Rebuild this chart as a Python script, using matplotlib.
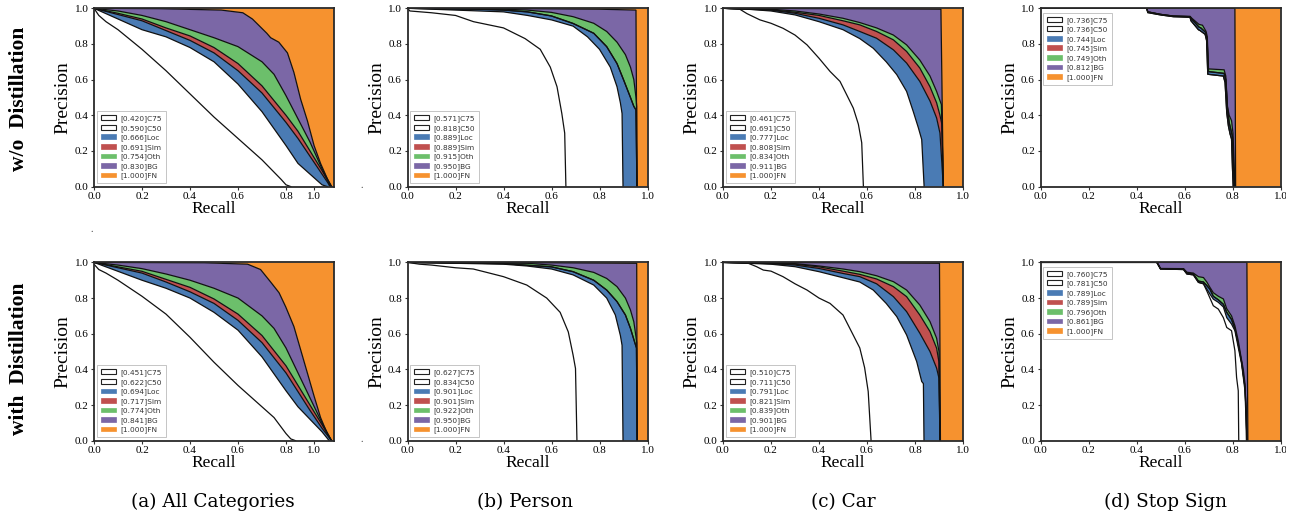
import numpy as np
import matplotlib
matplotlib.use('Agg')
import matplotlib.pyplot as plt
from matplotlib.patches import Patch, Rectangle

# ---------------- data ----------------
NAMES = ['C75', 'C50', 'Loc', 'Sim', 'Oth', 'BG', 'FN']
COLORS = ['#ffffff', '#ffffff', '#4a7bb4', '#c0504f', '#6cbf6b', '#7b67a6', '#f6922f']
ROW_LABELS = ['w/o  Distillation', 'with  Distillation']
CAPTIONS = ['(a) All Categories', '(b) Person', '(c) Car', '(d) Stop Sign']
Y_TICKS = [0.0, 0.2, 0.4, 0.6, 0.8, 1.0]
X_TICKS = [0.0, 0.2, 0.4, 0.6, 0.8, 1.0]
X_TICKS_ALL = [0.0, 0.2, 0.4, 0.6, 0.8, 0.917]
X_TICK_LABELS = ['0.0', '0.2', '0.4', '0.6', '0.8', '1.0']
FN_CURVE = [[0, 1.0], [1.0, 1.0], [1.0, 0.0]]

# legend AP values (C75, C50, Loc, Sim, Oth, BG, FN)
AP_ALL_WO = [0.420, 0.590, 0.666, 0.691, 0.754, 0.830, 1.000]
AP_ALL_W = [0.451, 0.622, 0.694, 0.717, 0.774, 0.841, 1.000]
AP_PER_WO = [0.571, 0.818, 0.889, 0.889, 0.915, 0.950, 1.000]
AP_PER_W = [0.627, 0.834, 0.901, 0.901, 0.922, 0.950, 1.000]
AP_CAR_WO = [0.461, 0.691, 0.777, 0.808, 0.834, 0.911, 1.000]
AP_CAR_W = [0.510, 0.711, 0.791, 0.821, 0.839, 0.901, 1.000]
AP_STOP_WO = [0.736, 0.736, 0.744, 0.745, 0.749, 0.812, 1.000]
AP_STOP_W = [0.760, 0.781, 0.789, 0.789, 0.796, 0.861, 1.000]

# ---- (a) All categories, w/o distillation : [recall, precision]
ALL_WO_C75 = [[0, 1.0], [0.02, 0.96], [0.05, 0.925], [0.1, 0.88], [0.2, 0.77], [0.3, 0.65], [0.4, 0.52],
              [0.5, 0.39], [0.6, 0.27], [0.7, 0.15], [0.78, 0.04], [0.8, 0.01], [0.82, 0.0]]
ALL_WO_C50 = [[0, 1.0], [0.1, 0.94], [0.2, 0.88], [0.3, 0.84], [0.4, 0.78], [0.5, 0.70], [0.6, 0.575],
              [0.7, 0.42], [0.8, 0.23], [0.85, 0.13], [0.9, 0.07], [0.95, 0.01], [0.972, 0.0]]
ALL_WO_LOC = [[0, 1.0], [0.1, 0.965], [0.2, 0.93], [0.3, 0.875], [0.4, 0.82], [0.5, 0.75], [0.6, 0.65],
              [0.7, 0.525], [0.8, 0.36], [0.85, 0.27], [0.9, 0.17], [0.95, 0.07], [0.975, 0.02], [0.983, 0.0]]
ALL_WO_SIM = [[0, 1.0], [0.1, 0.972], [0.2, 0.94], [0.3, 0.89], [0.4, 0.845], [0.5, 0.78], [0.6, 0.69],
              [0.7, 0.565], [0.8, 0.40], [0.85, 0.31], [0.9, 0.20], [0.95, 0.09], [0.975, 0.03], [0.987, 0.0]]
ALL_WO_OTH = [[0, 1.0], [0.1, 0.985], [0.2, 0.96], [0.3, 0.925], [0.4, 0.88], [0.5, 0.835], [0.6, 0.785],
              [0.7, 0.70], [0.75, 0.63], [0.8, 0.51], [0.85, 0.38], [0.9, 0.25], [0.95, 0.10], [0.975, 0.035],
              [0.99, 0.0]]
ALL_WO_BG = [[0, 1.0], [0.27, 0.998], [0.53, 0.99], [0.62, 0.975], [0.66, 0.94], [0.69, 0.90], [0.72, 0.86],
             [0.736, 0.835], [0.77, 0.81], [0.806, 0.75], [0.833, 0.64], [0.861, 0.49], [0.889, 0.37],
             [0.917, 0.23], [0.944, 0.13], [0.972, 0.045], [0.99, 0.0]]

# ---- (a) All categories, with distillation
ALL_W_C75 = [[0, 0.99], [0.02, 0.96], [0.05, 0.94], [0.1, 0.90], [0.2, 0.81], [0.3, 0.71], [0.4, 0.58],
             [0.5, 0.44], [0.6, 0.31], [0.7, 0.19], [0.75, 0.13], [0.8, 0.04], [0.82, 0.01], [0.84, 0.0]]
ALL_W_C50 = [[0, 1.0], [0.1, 0.95], [0.2, 0.90], [0.3, 0.855], [0.4, 0.80], [0.5, 0.72], [0.6, 0.62],
             [0.7, 0.47], [0.8, 0.28], [0.85, 0.19], [0.9, 0.12], [0.95, 0.05], [0.98, 0.0]]
ALL_W_LOC = [[0, 1.0], [0.1, 0.97], [0.2, 0.94], [0.3, 0.89], [0.4, 0.835], [0.5, 0.77], [0.6, 0.675],
             [0.7, 0.55], [0.8, 0.38], [0.85, 0.275], [0.9, 0.17], [0.95, 0.07], [0.99, 0.0]]
ALL_W_SIM = [[0, 1.0], [0.1, 0.975], [0.2, 0.95], [0.3, 0.905], [0.4, 0.86], [0.5, 0.795], [0.6, 0.71],
             [0.7, 0.59], [0.8, 0.42], [0.85, 0.31], [0.9, 0.20], [0.95, 0.09], [0.99, 0.0]]
ALL_W_OTH = [[0, 1.0], [0.1, 0.985], [0.2, 0.965], [0.3, 0.935], [0.4, 0.90], [0.5, 0.855], [0.6, 0.80],
             [0.7, 0.70], [0.75, 0.63], [0.8, 0.52], [0.85, 0.38], [0.9, 0.24], [0.95, 0.10], [0.99, 0.0]]
ALL_W_BG = [[0, 1.0], [0.46, 0.998], [0.64, 0.99], [0.667, 0.975], [0.694, 0.96], [0.736, 0.89],
            [0.771, 0.83], [0.799, 0.75], [0.833, 0.64], [0.861, 0.51], [0.889, 0.38], [0.917, 0.25],
            [0.944, 0.13], [0.972, 0.04], [0.99, 0.0]]

# ---- (b) Person, w/o distillation
PER_WO_C75 = [[0, 1.0], [0.01, 0.985], [0.1, 0.975], [0.2, 0.96], [0.275, 0.925], [0.4, 0.89], [0.49, 0.83],
              [0.553, 0.77], [0.595, 0.67], [0.623, 0.56], [0.643, 0.41], [0.655, 0.30], [0.66, 0.0]]
PER_WO_C50 = [[0, 1.0], [0.1, 0.995], [0.2, 0.99], [0.4, 0.98], [0.5, 0.96], [0.6, 0.935], [0.69, 0.90],
              [0.75, 0.84], [0.8, 0.77], [0.845, 0.67], [0.873, 0.56], [0.887, 0.47], [0.894, 0.41],
              [0.898, 0.0]]
PER_WO_LOC = [[0, 1.0], [0.3, 0.995], [0.4, 0.99], [0.5, 0.98], [0.6, 0.957], [0.69, 0.915], [0.776, 0.86],
              [0.83, 0.785], [0.873, 0.69], [0.90, 0.60], [0.929, 0.50], [0.943, 0.45], [0.952, 0.43],
              [0.956, 0.0]]
PER_WO_SIM = [[0, 1.0], [0.3, 0.995], [0.4, 0.99], [0.5, 0.98], [0.6, 0.957], [0.69, 0.915], [0.776, 0.86],
              [0.83, 0.785], [0.873, 0.69], [0.90, 0.60], [0.929, 0.50], [0.943, 0.45], [0.952, 0.43],
              [0.956, 0.0]]
PER_WO_OTH = [[0, 1.0], [0.4, 0.995], [0.5, 0.99], [0.6, 0.977], [0.69, 0.953], [0.776, 0.916], [0.83, 0.87],
              [0.873, 0.81], [0.908, 0.74], [0.929, 0.67], [0.943, 0.60], [0.952, 0.50], [0.955, 0.45],
              [0.956, 0.0]]
PER_WO_BG = [[0, 1.0], [0.5, 0.998], [0.8, 0.995], [0.952, 0.99], [0.956, 0.0]]

# ---- (b) Person, with distillation
PER_W_C75 = [[0, 1.0], [0.05, 0.99], [0.1, 0.985], [0.2, 0.97], [0.274, 0.963], [0.33, 0.944], [0.4, 0.92],
             [0.497, 0.873], [0.58, 0.80], [0.636, 0.72], [0.67, 0.61], [0.69, 0.48], [0.70, 0.405],
             [0.706, 0.0]]
PER_W_C50 = [[0, 1.0], [0.4, 0.99], [0.497, 0.98], [0.6, 0.963], [0.69, 0.93], [0.776, 0.873], [0.83, 0.80],
             [0.866, 0.705], [0.887, 0.59], [0.894, 0.535], [0.898, 0.0]]
PER_W_LOC = [[0, 1.0], [0.4, 0.993], [0.6, 0.975], [0.69, 0.948], [0.776, 0.90], [0.83, 0.845],
             [0.873, 0.78], [0.908, 0.705], [0.929, 0.63], [0.946, 0.555], [0.954, 0.52], [0.957, 0.0]]
PER_W_SIM = [[0, 1.0], [0.4, 0.993], [0.6, 0.975], [0.69, 0.948], [0.776, 0.90], [0.83, 0.845],
             [0.873, 0.78], [0.908, 0.705], [0.929, 0.63], [0.946, 0.555], [0.954, 0.52], [0.957, 0.0]]
PER_W_OTH = [[0, 1.0], [0.5, 0.995], [0.6, 0.985], [0.69, 0.97], [0.776, 0.944], [0.83, 0.91],
             [0.873, 0.864], [0.908, 0.80], [0.929, 0.733], [0.943, 0.667], [0.952, 0.583], [0.955, 0.55],
             [0.957, 0.0]]
PER_W_BG = [[0, 1.0], [0.6, 0.998], [0.955, 0.995], [0.957, 0.0]]

# ---- (c) Car, w/o distillation
CAR_WO_C75 = [[0, 1.0], [0.07, 0.995], [0.1, 0.97], [0.154, 0.935], [0.2, 0.916], [0.25, 0.888], [0.3, 0.85],
              [0.35, 0.795], [0.4, 0.72], [0.446, 0.646], [0.4875, 0.59], [0.515, 0.516], [0.543, 0.44],
              [0.564, 0.35], [0.578, 0.246], [0.585, 0.0]]
CAR_WO_C50 = [[0, 1.0], [0.1, 0.995], [0.2, 0.985], [0.3, 0.963], [0.4, 0.925], [0.5, 0.88], [0.57, 0.83],
              [0.626, 0.776], [0.68, 0.70], [0.724, 0.628], [0.765, 0.534], [0.793, 0.42], [0.814, 0.33],
              [0.828, 0.264], [0.838, 0.0]]
CAR_WO_LOC = [[0, 1.0], [0.2, 0.99], [0.3, 0.972], [0.4, 0.944], [0.5, 0.907], [0.57, 0.87], [0.64, 0.832],
              [0.71, 0.767], [0.765, 0.693], [0.82, 0.59], [0.8625, 0.48], [0.89, 0.385], [0.904, 0.30],
              [0.918, 0.0]]
CAR_WO_SIM = [[0, 1.0], [0.2, 0.992], [0.3, 0.978], [0.4, 0.96], [0.5, 0.93], [0.57, 0.907], [0.64, 0.87],
              [0.71, 0.823], [0.765, 0.758], [0.82, 0.665], [0.8625, 0.56], [0.89, 0.47], [0.904, 0.40],
              [0.912, 0.35], [0.918, 0.0]]
CAR_WO_OTH = [[0, 1.0], [0.2, 0.995], [0.3, 0.985], [0.4, 0.968], [0.5, 0.944], [0.57, 0.92], [0.64, 0.89],
              [0.71, 0.85], [0.765, 0.795], [0.82, 0.71], [0.8625, 0.62], [0.89, 0.534], [0.91, 0.46],
              [0.918, 0.0]]
CAR_WO_BG = [[0, 1.0], [0.5, 0.998], [0.908, 0.995], [0.918, 0.0]]

# ---- (c) Car, with distillation
CAR_W_C75 = [[0, 1.0], [0.1, 0.998], [0.14, 0.976], [0.168, 0.957], [0.2, 0.951], [0.25, 0.92], [0.3, 0.88],
             [0.35, 0.845], [0.4, 0.80], [0.446, 0.77], [0.5, 0.705], [0.536, 0.61], [0.57, 0.52],
             [0.59, 0.41], [0.605, 0.276], [0.617, 0.0]]
CAR_W_C50 = [[0, 1.0], [0.2, 0.99], [0.3, 0.976], [0.4, 0.948], [0.5, 0.914], [0.57, 0.89], [0.626, 0.845],
             [0.68, 0.77], [0.724, 0.696], [0.765, 0.593], [0.807, 0.444], [0.828, 0.332], [0.835, 0.32],
             [0.8375, 0.0]]
CAR_W_LOC = [[0, 1.0], [0.2, 0.993], [0.3, 0.985], [0.4, 0.966], [0.5, 0.938], [0.57, 0.92], [0.64, 0.88],
             [0.71, 0.808], [0.765, 0.724], [0.82, 0.603], [0.8625, 0.50], [0.89, 0.407], [0.90, 0.35],
             [0.904, 0.0]]
CAR_W_SIM = [[0, 1.0], [0.3, 0.99], [0.4, 0.975], [0.5, 0.951], [0.57, 0.933], [0.64, 0.907], [0.71, 0.864],
             [0.765, 0.808], [0.82, 0.705], [0.8625, 0.612], [0.89, 0.519], [0.90, 0.44], [0.904, 0.0]]
CAR_W_OTH = [[0, 1.0], [0.3, 0.993], [0.4, 0.98], [0.5, 0.963], [0.57, 0.948], [0.64, 0.925], [0.71, 0.892],
             [0.765, 0.845], [0.82, 0.761], [0.8625, 0.668], [0.89, 0.575], [0.90, 0.50], [0.904, 0.0]]
CAR_W_BG = [[0, 1.0], [0.5, 0.998], [0.902, 0.995], [0.906, 0.0]]

# ---- (d) Stop sign, w/o distillation
STOP_WO_C75 = [[0, 1.0], [0.443, 1.0], [0.447, 0.976], [0.5, 0.963], [0.554, 0.953], [0.623, 0.95],
               [0.627, 0.93], [0.658, 0.88], [0.665, 0.875], [0.686, 0.854], [0.692, 0.82], [0.697, 0.63],
               [0.762, 0.62], [0.769, 0.584], [0.776, 0.416], [0.783, 0.34], [0.79, 0.295], [0.796, 0.267],
               [0.80, 0.10], [0.803, 0.0]]
STOP_WO_C50 = [[0, 1.0], [0.443, 1.0], [0.447, 0.976], [0.5, 0.963], [0.554, 0.953], [0.623, 0.95],
               [0.627, 0.93], [0.658, 0.88], [0.665, 0.875], [0.686, 0.854], [0.692, 0.82], [0.697, 0.63],
               [0.762, 0.62], [0.769, 0.584], [0.776, 0.416], [0.783, 0.34], [0.79, 0.295], [0.796, 0.267],
               [0.80, 0.10], [0.803, 0.0]]
STOP_WO_LOC = [[0, 1.0], [0.443, 1.0], [0.447, 0.98], [0.5, 0.966], [0.554, 0.956], [0.623, 0.953],
               [0.63, 0.94], [0.66, 0.895], [0.668, 0.89], [0.688, 0.865], [0.694, 0.83], [0.70, 0.645],
               [0.765, 0.635], [0.772, 0.60], [0.779, 0.44], [0.786, 0.36], [0.793, 0.32], [0.80, 0.28],
               [0.805, 0.10], [0.808, 0.0]]
STOP_WO_SIM = [[0, 1.0], [0.443, 1.0], [0.447, 0.98], [0.5, 0.966], [0.554, 0.956], [0.623, 0.953],
               [0.63, 0.94], [0.66, 0.895], [0.668, 0.89], [0.688, 0.865], [0.694, 0.83], [0.70, 0.645],
               [0.765, 0.635], [0.772, 0.60], [0.779, 0.44], [0.786, 0.36], [0.793, 0.32], [0.80, 0.28],
               [0.805, 0.10], [0.808, 0.0]]
STOP_WO_OTH = [[0, 1.0], [0.443, 1.0], [0.447, 0.98], [0.5, 0.966], [0.554, 0.957], [0.623, 0.955],
               [0.63, 0.945], [0.66, 0.91], [0.675, 0.905], [0.69, 0.87], [0.695, 0.84], [0.70, 0.66],
               [0.765, 0.655], [0.772, 0.62], [0.779, 0.45], [0.786, 0.40], [0.796, 0.37], [0.802, 0.30],
               [0.807, 0.12], [0.81, 0.0]]
STOP_WO_BG = [[0, 1.0], [0.81, 1.0], [0.813, 0.0]]

# ---- (d) Stop sign, with distillation
STOP_W_C75 = [[0, 1.0], [0.485, 1.0], [0.5, 0.963], [0.596, 0.96], [0.61, 0.935], [0.637, 0.93],
              [0.658, 0.888], [0.679, 0.88], [0.693, 0.84], [0.72, 0.757], [0.741, 0.738], [0.762, 0.69],
              [0.776, 0.635], [0.796, 0.617], [0.81, 0.505], [0.817, 0.355], [0.824, 0.28], [0.826, 0.0]]
STOP_W_C50 = [[0, 1.0], [0.485, 1.0], [0.5, 0.963], [0.596, 0.96], [0.61, 0.935], [0.637, 0.93],
              [0.658, 0.888], [0.679, 0.88], [0.693, 0.85], [0.706, 0.822], [0.72, 0.794], [0.741, 0.776],
              [0.762, 0.75], [0.776, 0.69], [0.796, 0.654], [0.81, 0.617], [0.824, 0.523], [0.838, 0.43],
              [0.845, 0.355], [0.852, 0.28], [0.856, 0.13], [0.858, 0.0]]
STOP_W_LOC = [[0, 1.0], [0.485, 1.0], [0.5, 0.965], [0.596, 0.963], [0.61, 0.94], [0.637, 0.935],
              [0.658, 0.895], [0.679, 0.89], [0.693, 0.87], [0.706, 0.85], [0.72, 0.81], [0.741, 0.79],
              [0.762, 0.765], [0.776, 0.72], [0.796, 0.68], [0.81, 0.63], [0.824, 0.54], [0.838, 0.44],
              [0.845, 0.37], [0.852, 0.30], [0.857, 0.15], [0.86, 0.0]]
STOP_W_SIM = [[0, 1.0], [0.485, 1.0], [0.5, 0.965], [0.596, 0.963], [0.61, 0.94], [0.637, 0.935],
              [0.658, 0.895], [0.679, 0.89], [0.693, 0.87], [0.706, 0.85], [0.72, 0.81], [0.741, 0.79],
              [0.762, 0.765], [0.776, 0.72], [0.796, 0.68], [0.81, 0.63], [0.824, 0.54], [0.838, 0.44],
              [0.845, 0.37], [0.852, 0.30], [0.857, 0.15], [0.86, 0.0]]
STOP_W_OTH = [[0, 1.0], [0.485, 1.0], [0.5, 0.966], [0.596, 0.965], [0.61, 0.945], [0.637, 0.94],
              [0.658, 0.92], [0.679, 0.915], [0.693, 0.89], [0.706, 0.86], [0.72, 0.83], [0.741, 0.81],
              [0.762, 0.795], [0.776, 0.74], [0.796, 0.70], [0.81, 0.645], [0.824, 0.56], [0.838, 0.45],
              [0.845, 0.40], [0.852, 0.32], [0.857, 0.16], [0.86, 0.0]]
STOP_W_BG = [[0, 1.0], [0.86, 1.0], [0.864, 0.0]]

# ---------------- layout ----------------
plt.rcParams['font.family'] = ['Liberation Serif', 'DejaVu Serif']
W, H = 1299, 518
fig = plt.figure(figsize=(W / 100, H / 100), dpi=100)

AX_LEFT_PX = [94, 407.5, 723, 1040.5]
AX_TOP_PX = [8.3, 262.4]
AX_W_PX, AX_H_PX = 240, 178.3

panels = [
    [(ALL_WO_C75, ALL_WO_C50, ALL_WO_LOC, ALL_WO_SIM, ALL_WO_OTH, ALL_WO_BG), AP_ALL_WO, 'lower left', X_TICKS_ALL],
    [(PER_WO_C75, PER_WO_C50, PER_WO_LOC, PER_WO_SIM, PER_WO_OTH, PER_WO_BG), AP_PER_WO, 'lower left', X_TICKS],
    [(CAR_WO_C75, CAR_WO_C50, CAR_WO_LOC, CAR_WO_SIM, CAR_WO_OTH, CAR_WO_BG), AP_CAR_WO, 'lower left', X_TICKS],
    [(STOP_WO_C75, STOP_WO_C50, STOP_WO_LOC, STOP_WO_SIM, STOP_WO_OTH, STOP_WO_BG), AP_STOP_WO, 'upper left', X_TICKS],
    [(ALL_W_C75, ALL_W_C50, ALL_W_LOC, ALL_W_SIM, ALL_W_OTH, ALL_W_BG), AP_ALL_W, 'lower left', X_TICKS_ALL],
    [(PER_W_C75, PER_W_C50, PER_W_LOC, PER_W_SIM, PER_W_OTH, PER_W_BG), AP_PER_W, 'lower left', X_TICKS],
    [(CAR_W_C75, CAR_W_C50, CAR_W_LOC, CAR_W_SIM, CAR_W_OTH, CAR_W_BG), AP_CAR_W, 'lower left', X_TICKS],
    [(STOP_W_C75, STOP_W_C50, STOP_W_LOC, STOP_W_SIM, STOP_W_OTH, STOP_W_BG), AP_STOP_W, 'upper left', X_TICKS],
]


def draw(ax, curves, aps, loc, xticks):
    curves = [np.asarray(c, dtype=float) for c in curves] + [np.asarray(FN_CURVE, dtype=float)]
    base = np.array([[0.0, 0.0]])
    prev = base
    for k, cur in enumerate(curves):
        poly = np.vstack([cur, prev[::-1]])
        ax.fill(poly[:, 0], poly[:, 1], facecolor=COLORS[k], edgecolor='none', zorder=1 + k * 0.01)
        prev = cur
    for k, cur in enumerate(curves[:-1]):
        ax.plot(cur[:, 0], cur[:, 1], color='#111111', lw=0.9, zorder=3,
                solid_joinstyle='miter')
    ax.set_xlim(0, 1)
    ax.set_ylim(0, 1)
    ax.set_xticks(xticks)
    ax.set_xticklabels(X_TICK_LABELS)
    ax.set_yticks(Y_TICKS)
    ax.set_yticklabels(['%.1f' % v for v in Y_TICKS])
    ax.tick_params(labelsize=8, length=2.5, width=0.8, pad=1.5, color='#333333')
    for s in ax.spines.values():
        s.set_linewidth(1.3)
        s.set_color('#2a2a2a')
        s.set_zorder(5)
    ax.set_xlabel('Recall', fontsize=12.5, labelpad=0)
    ax.set_ylabel('Precision', fontsize=14, labelpad=2)
    handles = []
    for k in range(7):
        if k < 2:
            handles.append(Patch(facecolor='white', edgecolor='#222222', lw=0.8))
        else:
            handles.append(Patch(facecolor=COLORS[k], edgecolor=COLORS[k], lw=0.5))
    labels = ['[%.3f]%s' % (a, n) for a, n in zip(aps, NAMES)]
    if loc == 'lower left':
        anchor = (0.012, 0.018)
    else:
        anchor = (0.012, 0.975)
    leg = ax.legend(handles, labels, loc=loc, bbox_to_anchor=anchor,
                    prop={'family': 'DejaVu Sans', 'size': 5.3},
                    handlelength=2.0, handleheight=0.62, handletextpad=0.6, labelspacing=0.38,
                    borderpad=0.55, borderaxespad=0.0, frameon=True, framealpha=1.0,
                    fancybox=False, edgecolor='#bbbbbb', labelcolor='#333333')
    leg.get_frame().set_linewidth(0.6)
    leg.set_zorder(6)


for i, (curves, aps, loc, xt) in enumerate(panels):
    row, col = divmod(i, 4)
    left = AX_LEFT_PX[col] / W
    bottom = 1 - (AX_TOP_PX[row] + AX_H_PX) / H
    ax = fig.add_axes([left, bottom, AX_W_PX / W, AX_H_PX / H])
    draw(ax, curves, aps, loc, xt)

for row, lab in enumerate(ROW_LABELS):
    yc = [99, 359][row]
    fig.text(19 / W, 1 - yc / H, lab, rotation=90, ha='center', va='center',
             fontsize=15.5, fontweight='bold', family=['Liberation Serif', 'DejaVu Serif'])

CAPTION_X_PX = [213, 525, 843, 1165]
for cx, cap in zip(CAPTION_X_PX, CAPTIONS):
    fig.text(cx / W, 1 - 502 / H, cap, ha='center', va='center', fontsize=13.3,
             family=['DejaVu Serif'])

# small stray marks present in the source figure
for (px, py) in [(362, 186), (362, 440), (92, 230)]:
    fig.text(px / W, 1 - py / H, '.', ha='center', va='center', fontsize=7, color='#333333')

# the source image is cropped just right of panel (d)
fig.patches.append(Rectangle((1286 / W, 0), 13 / W, 1, transform=fig.transFigure,
                             facecolor='white', edgecolor='none', zorder=10))

fig.savefig('out.png', dpi=100, facecolor='white')
